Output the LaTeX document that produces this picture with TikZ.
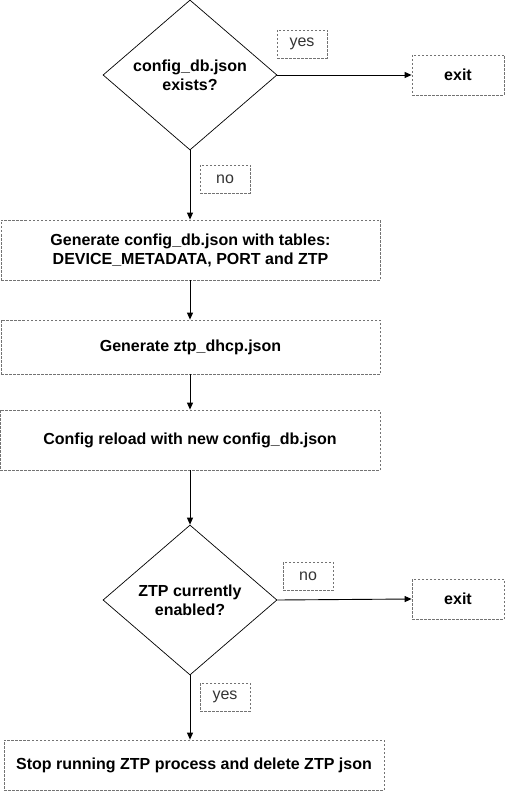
\documentclass[tikz,border=0pt]{standalone}
\usepackage{fontspec}
\setmainfont{Liberation Sans}
\usetikzlibrary{shapes.geometric,arrows.meta}
\begin{document}
\begin{tikzpicture}[x=1pt,y=-1pt,
  font=\fontsize{16}{19}\selectfont,
  dbox/.style={draw=black!55,dash pattern=on 2.5pt off 1.5pt,line width=0.8pt,minimum height=#1,inner sep=0pt,align=center},
  lbl/.style={draw=black!55,dash pattern=on 2.5pt off 1.5pt,line width=0.8pt,minimum width=50pt,minimum height=28pt,inner sep=0pt,text=black!80},
  dec/.style={draw,diamond,aspect=1.16,minimum width=174pt,minimum height=150pt,inner sep=0pt,align=center,line width=0.7pt},
  arr/.style={-{Triangle[length=7pt,width=6pt]},line width=0.9pt}]
\useasboundingbox (0,0) rectangle (505,791);
\node[dec] (d1) at (190,75) {\textbf{config\_db.json}\\\textbf{exists?}};
\node[dbox=40pt,minimum width=92pt] (e1) at (458,75) {\textbf{exit}};
\node[lbl] (y1) at (302,44) {yes};
\node[lbl] (n1) at (225,179) {no};
\node[dbox=60pt,minimum width=379pt] (b1) at (190.5,250) {\textbf{Generate config\_db.json with tables:}\\\textbf{DEVICE\_METADATA, PORT and ZTP}};
\node[dbox=54pt,minimum width=379pt] (b2) at (190.5,347) {\textbf{Generate ztp\_dhcp.json}};
\node[dbox=60pt,minimum width=380pt] (b3) at (190,440) {\textbf{Config reload with new config\_db.json}};
\node[dec] (d2) at (190,600) {\textbf{ZTP currently}\\\textbf{enabled?}};
\node[dbox=40pt,minimum width=92pt] (e2) at (458,599) {\textbf{exit}};
\node[lbl] (n2) at (308,576) {no};
\node[lbl] (y2) at (225,697) {yes};
\node[dbox=50pt,minimum width=380pt] (b4) at (194,765) {\textbf{Stop running ZTP process and delete ZTP json}};
\draw[arr] (d1.east) -- (e1.west);
\draw[arr] (d1.south) -- (b1.north -| d1.south);
\draw[arr] (b1.south -| d1.south) -- (b2.north -| d1.south);
\draw[arr] (b2.south -| d1.south) -- (b3.north -| d1.south);
\draw[arr] (b3.south -| d1.south) -- (d2.north);
\draw[arr] (d2.east) -- (e2.west);
\draw[arr] (d2.south) -- (b4.north -| d2.south);
\end{tikzpicture}
\end{document}
